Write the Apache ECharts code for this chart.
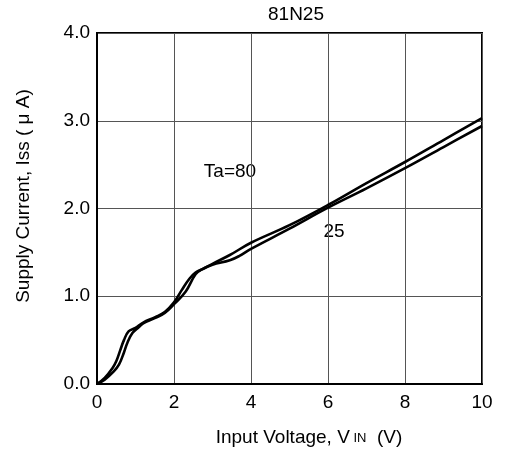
<!DOCTYPE html>
<html>
<head>
<meta charset="utf-8">
<script src="https://cdn.jsdelivr.net/npm/echarts@6/dist/echarts.min.js"></script>
<style>html,body{margin:0;padding:0;background:#fff}#c{width:507px;height:455px}</style>
</head>
<body>
<div id="c"></div>
<script>
var titleText = '81N25';
var xTicks = [0, 2, 4, 6, 8, 10];
var yTicks = ['0.0', '1.0', '2.0', '3.0', '4.0'];
var seriesNames = ['Ta=80', '25'];
var ta80 = [[0,0],[0.2,0.07],[0.4,0.18],[0.5,0.26],[0.6,0.38],[0.7,0.5],[0.82,0.6],[1.0,0.64],[1.2,0.7],[1.5,0.76],[1.76,0.82],[2.0,0.93],[2.2,1.07],[2.4,1.2],[2.56,1.27],[2.74,1.31],[3.0,1.37],[3.45,1.47],[4.0,1.61],[5.0,1.81],[6.0,2.04],[7.0,2.29],[8.0,2.53],[9.0,2.78],[10,3.03]];
var ta25 = [[0,0],[0.2,0.05],[0.43,0.14],[0.57,0.22],[0.7,0.36],[0.79,0.47],[0.92,0.58],[1.09,0.65],[1.2,0.69],[1.5,0.75],[1.76,0.81],[2.0,0.91],[2.3,1.05],[2.56,1.25],[2.74,1.31],[3.0,1.36],[3.45,1.41],[3.7,1.46],[4.0,1.54],[5.0,1.77],[6.0,2.01],[7.0,2.23],[8.0,2.46],[9.0,2.70],[10,2.94]];

var FONT = 'Liberation Sans, Arial, sans-serif';
var FS = 19;
var chart = echarts.init(document.getElementById('c'));
function lineSeries(name, data) {
  return {
    name: name, type: 'line', data: data, smooth: 0.4, symbol: 'none',
    lineStyle: { color: '#000', width: 2.6 }, silent: true, animation: false
  };
}
chart.setOption({
  animation: false,
  backgroundColor: '#fff',
  grid: { left: 97, right: 25, top: 33, bottom: 71, show: true, borderColor: '#000', borderWidth: 2, backgroundColor: 'transparent' },
  xAxis: {
    type: 'value', min: 0, max: 10, interval: 2,
    axisLine: { show: true, lineStyle: { color: '#000', width: 2 } },
    axisTick: { show: false },
    axisLabel: { color: '#000', fontSize: FS, fontFamily: FONT, margin: 9,
      formatter: function (v) { return String(xTicks[Math.round(v / 2)]); } },
    splitLine: { show: true, lineStyle: { color: '#555', width: 1 } }
  },
  yAxis: {
    type: 'value', min: 0, max: 4, interval: 1,
    axisLine: { show: true, lineStyle: { color: '#000', width: 2 } },
    axisTick: { show: false },
    axisLabel: { color: '#000', fontSize: FS, fontFamily: FONT, margin: 7,
      formatter: function (v) { return yTicks[Math.round(v)]; } },
    splitLine: { show: true, lineStyle: { color: '#555', width: 1 } }
  },
  series: [lineSeries(seriesNames[0], ta80), lineSeries(seriesNames[1], ta25)],
  graphic: [
    { type: 'text', x: 296, y: 15, style: { text: titleText, font: FS + 'px ' + FONT, fill: '#000', textAlign: 'center', textVerticalAlign: 'middle' } },
    { type: 'text', x: 309, y: 438, style: { rich: { a: { fontSize: FS, fontFamily: FONT, fill: '#000' }, s: { fontSize: 13, fontFamily: FONT, fill: '#000' } }, text: '{a|Input Voltage, V}{s| IN}{a|  (V)}', textAlign: 'center', textVerticalAlign: 'middle' } },
    { type: 'text', x: 24, y: 196, rotation: Math.PI / 2, style: { text: 'Supply Current, Iss ( μ A)', font: FS + 'px ' + FONT, fill: '#000', textAlign: 'center', textVerticalAlign: 'middle' } },
    { type: 'text', x: 230, y: 172, style: { text: seriesNames[0], font: FS + 'px ' + FONT, fill: '#000', textAlign: 'center', textVerticalAlign: 'middle' } },
    { type: 'text', x: 334, y: 232, style: { text: seriesNames[1], font: FS + 'px ' + FONT, fill: '#000', textAlign: 'center', textVerticalAlign: 'middle' } }
  ]
});
</script>
</body>
</html>
